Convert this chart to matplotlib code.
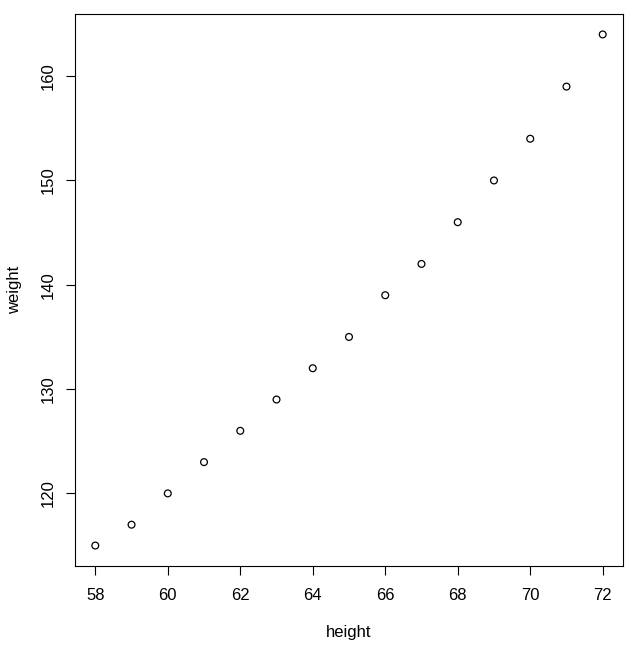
import matplotlib
matplotlib.use("Agg")
import matplotlib.pyplot as plt

# women dataset
height = [58, 59, 60, 61, 62, 63, 64, 65, 66, 67, 68, 69, 70, 71, 72]
weight = [115, 117, 120, 123, 126, 129, 132, 135, 139, 142, 146, 150, 154, 159, 164]
x_ticks = [58, 60, 62, 64, 66, 68, 70, 72]
y_ticks = [120, 130, 140, 150, 160]

plt.rcParams["font.family"] = ["Liberation Sans", "DejaVu Sans"]

fig = plt.figure(figsize=(6.36, 6.46), dpi=100)
ax = fig.add_axes([75 / 636, 1 - 566 / 646, (623 - 75) / 636, (566 - 14) / 646])

ax.scatter(height, weight, s=24, facecolors="none", edgecolors="black", linewidths=0.9)

# R-style 4% padding
xpad = (max(height) - min(height)) * 0.04
ypad = (max(weight) - min(weight)) * 0.04
ax.set_xlim(min(height) - xpad, max(height) + xpad)
ax.set_ylim(min(weight) - ypad, max(weight) + ypad)

ax.set_xticks(x_ticks)
ax.set_yticks(y_ticks)
ax.tick_params(direction="out", length=6.5, width=0.8, labelsize=12)
ax.tick_params(axis="x", pad=9)
ax.tick_params(axis="y", pad=7)
for lbl in ax.get_yticklabels():
    lbl.set_rotation(90)
    lbl.set_va("center")

for sp in ax.spines.values():
    sp.set_linewidth(0.8)

ax.set_xlabel("height", fontsize=12, labelpad=16)
ax.set_ylabel("weight", fontsize=12, labelpad=14)

fig.savefig("out.png", dpi=100)
